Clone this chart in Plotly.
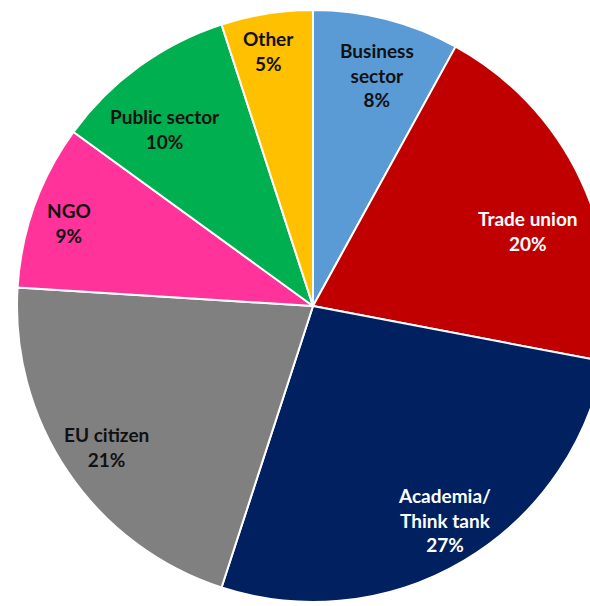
import math
import plotly.graph_objects as go

# ---- data ----
categories = ["Business sector", "Trade union", "Academia/Think tank", "EU citizen",
              "NGO", "Public sector", "Other"]
label_text = ["Business<br>sector", "Trade union", "Academia/<br>Think tank", "EU citizen",
              "NGO", "Public sector", "Other"]
shares = [8, 20, 27, 21, 9, 10, 5]

# ---- style ----
colors = ["#5B9BD5", "#C00000", "#002060", "#808080", "#FF3399", "#00B050", "#FFC000"]
text_colors = ["#111111", "#FFFFFF", "#FFFFFF", "#111111", "#111111", "#111111", "#111111"]
label_rfrac = [0.81, 0.77, 0.85, 0.845, 0.87, 0.78, 0.875]
label_dang = [1, 6, -1, 0, -1, -4, -1]

W, H = 620, 620
CX, CY, R = 313, 306, 296

fig = go.Figure(go.Pie(
    labels=categories,
    values=shares,
    sort=False,
    direction="clockwise",
    rotation=0,
    marker=dict(colors=colors, line=dict(color="white", width=2)),
    textinfo="none",
    hoverinfo="label+percent",
    showlegend=False,
    domain=dict(x=[(CX - R) / W, (CX + R) / W], y=[1 - (CY + R) / H, 1 - (CY - R) / H]),
))

total = sum(shares)
cum = 0
for i, v in enumerate(shares):
    mid = (cum + v / 2) / total * 360 + label_dang[i]
    cum += v
    a = math.radians(mid)
    px = CX + R * label_rfrac[i] * math.sin(a)
    py = CY - R * label_rfrac[i] * math.cos(a)
    pct = round(v / total * 100)
    fig.add_annotation(
        x=px / W, y=1 - py / H, xref="paper", yref="paper",
        text=f"{label_text[i]}<br>{pct}%", showarrow=False,
        xanchor="center", yanchor="middle", align="center",
        font=dict(family="Lato", size=19, color=text_colors[i], weight="bold"),
    )

fig.update_layout(
    width=W, height=H,
    margin=dict(l=0, r=0, t=0, b=0),
    paper_bgcolor="white",
    plot_bgcolor="white",
)

fig.write_html(
    "out.html",
    post_script="document.body.style.margin='0';document.body.style.overflow='hidden';"
                "document.documentElement.style.overflow='hidden';",
)
